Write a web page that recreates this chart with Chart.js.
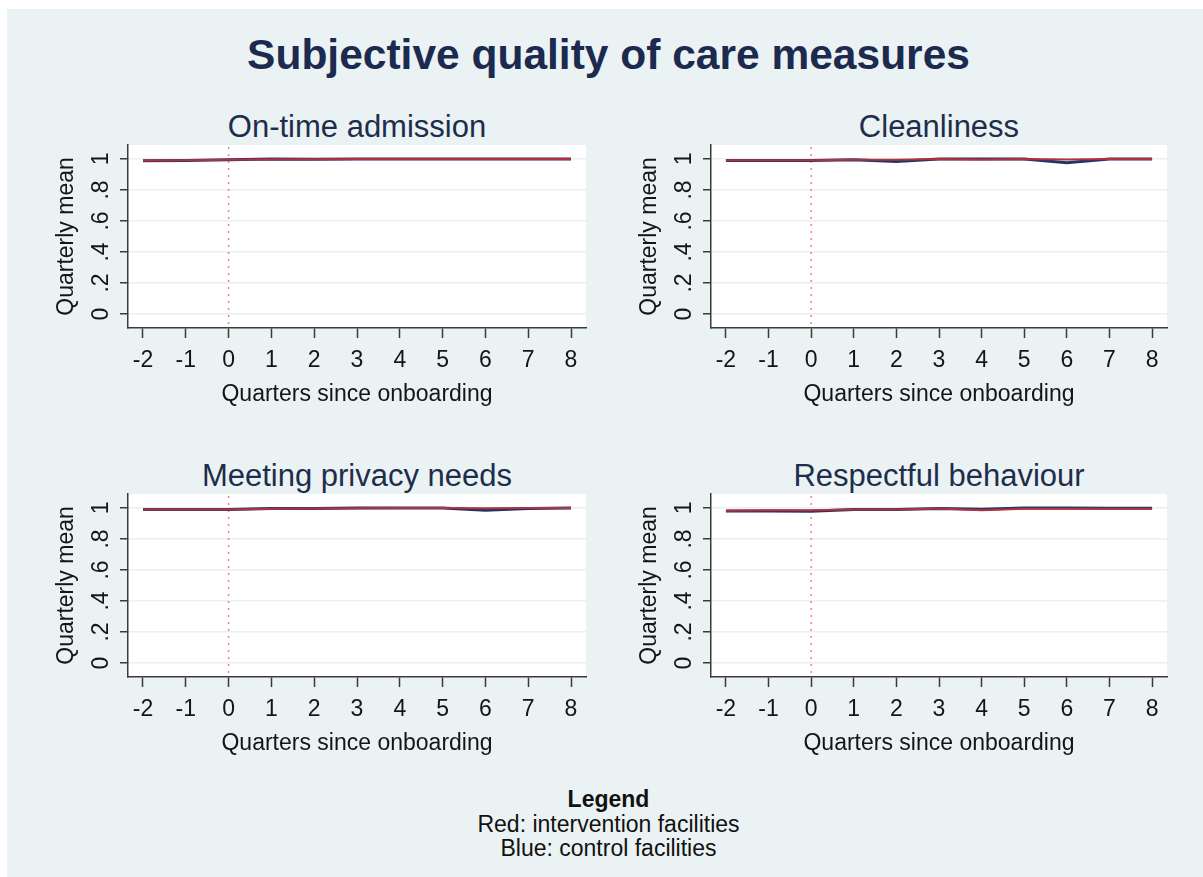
<!DOCTYPE html>
<html>
<head>
<meta charset="utf-8">
<script src="https://cdn.jsdelivr.net/npm/chart.js@4.4.1/dist/chart.umd.min.js"></script>
<style>
  html, body { margin:0; padding:0; background:#ffffff; }
  body { width:1203px; height:877px; position:relative; overflow:hidden; font-family:"Liberation Sans", Arial, sans-serif; }
  #bg { position:absolute; left:7px; top:9px; width:1196px; height:868px; background:#eaf2f3; }
  #mainTitle { position:absolute; left:0; width:1217px; top:34px; text-align:center; font-weight:bold; font-size:42.5px; line-height:42px; color:#1b2a4e; }
  #legend { position:absolute; left:0; width:1217px; top:787px; text-align:center; font-size:23px; line-height:24.5px; color:#111; }
  #legend b { font-weight:bold; }
  .ptitle { position:absolute; width:460px; text-align:center; font-size:31px; line-height:31px; color:#1e2d4c; white-space:nowrap; }
  canvas { position:absolute; }
</style>
</head>
<body>
<div id="bg"></div>
<div id="mainTitle">Subjective quality of care measures</div>
<div class="ptitle" id="t0" style="left:127px;top:111px"></div>
<div class="ptitle" id="t1" style="left:709px;top:111px"></div>
<div class="ptitle" id="t2" style="left:127px;top:460px"></div>
<div class="ptitle" id="t3" style="left:709px;top:460px"></div>
<canvas id="c0" width="560" height="312" style="left:40px;top:100px"></canvas>
<canvas id="c1" width="560" height="312" style="left:623px;top:100px"></canvas>
<canvas id="c2" width="560" height="312" style="left:40px;top:449px"></canvas>
<canvas id="c3" width="560" height="312" style="left:623px;top:449px"></canvas>
<div id="legend"><b>Legend</b><br>Red: intervention facilities<br>Blue: control facilities</div>
<script>
// ---------------- data ----------------
const quarters = [-2, -1, 0, 1, 2, 3, 4, 5, 6, 7, 8];
const xTickValues = [-2, -1, 0, 1, 2, 3, 4, 5, 6, 7, 8];
const yTickValues = [0, 0.2, 0.4, 0.6, 0.8, 1];
const yTickLabels = ['0', '.2', '.4', '.6', '.8', '1'];
const panelTitles = ['On-time admission', 'Cleanliness', 'Meeting privacy needs', 'Respectful behaviour'];
const xAxisTitle = 'Quarters since onboarding';
const yAxisTitle = 'Quarterly mean';
const onboardingQuarter = 0;

const onTimeRed   = [0.990, 0.992, 0.995, 0.998, 0.998, 1.000, 1.000, 1.000, 1.000, 1.000, 1.000];
const onTimeBlue  = [0.988, 0.990, 0.995, 1.000, 0.998, 1.000, 1.000, 1.000, 1.000, 1.000, 1.000];
const cleanRed    = [0.992, 0.992, 0.992, 0.995, 0.995, 1.000, 0.996, 1.000, 0.996, 1.000, 1.000];
const cleanBlue   = [0.990, 0.990, 0.990, 0.995, 0.984, 1.000, 1.000, 1.000, 0.975, 1.000, 1.000];
const privacyRed  = [0.990, 0.990, 0.990, 0.995, 0.996, 0.998, 1.000, 1.000, 0.998, 1.000, 1.000];
const privacyBlue = [0.990, 0.990, 0.990, 0.996, 0.996, 1.000, 1.000, 1.000, 0.985, 0.996, 1.000];
const respectRed  = [0.982, 0.985, 0.985, 0.990, 0.990, 0.996, 0.985, 0.995, 0.995, 0.995, 0.995];
const respectBlue = [0.980, 0.980, 0.978, 0.990, 0.990, 0.996, 0.992, 1.000, 1.000, 0.998, 0.998];

const seriesRed  = [onTimeRed, cleanRed, privacyRed, respectRed];
const seriesBlue = [onTimeBlue, cleanBlue, privacyBlue, respectBlue];

// ---------------- styling ----------------
const FONT = '"Liberation Sans", Arial, sans-serif';
const RED = '#b3303f';
const BLUE = '#1f3668';
const AXIS = '#3a3a3a';
const GRID = '#e8f0f2';
const paddingRight = [14, 16, 14, 16];

const toPoints = arr => quarters.map((q, i) => ({ x: q, y: arr[i] }));

const panelPlugin = {
  id: 'panelPlugin',
  beforeDraw(chart) {
    const a = chart.chartArea, ctx = chart.ctx;
    ctx.save();
    ctx.fillStyle = '#ffffff';
    ctx.fillRect(a.left, a.top, a.right - a.left, a.bottom - a.top);
    ctx.restore();
  },
  beforeDatasetsDraw(chart) {
    const a = chart.chartArea, ctx = chart.ctx;
    const x = chart.scales.x.getPixelForValue(onboardingQuarter);
    ctx.save();
    ctx.strokeStyle = '#ec7f9c';
    ctx.lineWidth = 1.5;
    ctx.setLineDash([2, 5]);
    ctx.beginPath();
    ctx.moveTo(x, a.top + 2);
    ctx.lineTo(x, a.bottom);
    ctx.stroke();
    ctx.restore();
  },
  afterDraw(chart) {
    const ys = chart.scales.y, ctx = chart.ctx;
    const cx = chart.chartArea.left - 26;
    ctx.save();
    ctx.fillStyle = '#151515';
    ctx.font = '23px ' + FONT;
    ctx.textAlign = 'center';
    ctx.textBaseline = 'middle';
    yTickValues.forEach((v, i) => {
      const py = ys.getPixelForValue(v);
      ctx.save();
      ctx.translate(cx, py);
      ctx.rotate(-Math.PI / 2);
      ctx.fillText(yTickLabels[i], 0, 0);
      ctx.restore();
    });
    ctx.restore();
  }
};

for (let p = 0; p < 4; p++) {
  document.getElementById('t' + p).textContent = panelTitles[p];
  new Chart(document.getElementById('c' + p), {
    type: 'line',
    data: {
      datasets: [
        { label: 'Intervention', data: toPoints(seriesRed[p]), borderColor: RED, borderWidth: 2, pointRadius: 0, tension: 0, fill: false },
        { label: 'Control', data: toPoints(seriesBlue[p]), borderColor: BLUE, borderWidth: 3, pointRadius: 0, tension: 0, fill: false }
      ]
    },
    options: {
      responsive: false,
      animation: false,
      events: [],
      layout: { padding: { left: 0, right: paddingRight[p], top: 45, bottom: 0 } },
      plugins: {
        legend: { display: false },
        tooltip: { enabled: false },
        title: { display: false }
      },
      scales: {
        x: {
          type: 'linear',
          min: -2.35,
          max: 8.35,
          afterBuildTicks: s => { s.ticks = xTickValues.map(v => ({ value: v })); },
          afterFit: s => { s.height = 84; },
          ticks: { color: '#151515', font: { family: FONT, size: 23 }, padding: 9, maxRotation: 0, minRotation: 0, autoSkip: false,
                   callback: v => String(v) },
          grid: { drawOnChartArea: false, drawTicks: true, tickLength: 10, tickColor: AXIS, tickWidth: 1.5 },
          border: { display: true, color: AXIS, width: 1.5 },
          title: { display: true, text: xAxisTitle, color: '#151515', font: { family: FONT, size: 23 }, padding: { top: 4, bottom: 4 } }
        },
        y: {
          type: 'linear',
          min: -0.09,
          max: 1.09,
          afterBuildTicks: s => { s.ticks = yTickValues.map(v => ({ value: v })); },
          afterFit: s => { s.width = 88; },
          ticks: { display: false },
          grid: { drawOnChartArea: true, color: GRID, lineWidth: 1.5, drawTicks: true, tickLength: 8, tickColor: AXIS, tickWidth: 1.5 },
          border: { display: true, color: AXIS, width: 1.5 },
          title: { display: true, text: yAxisTitle, color: '#151515', font: { family: FONT, size: 23 }, padding: { top: 13, bottom: 0 } }
        }
      }
    },
    plugins: [panelPlugin]
  });
}
</script>
</body>
</html>
